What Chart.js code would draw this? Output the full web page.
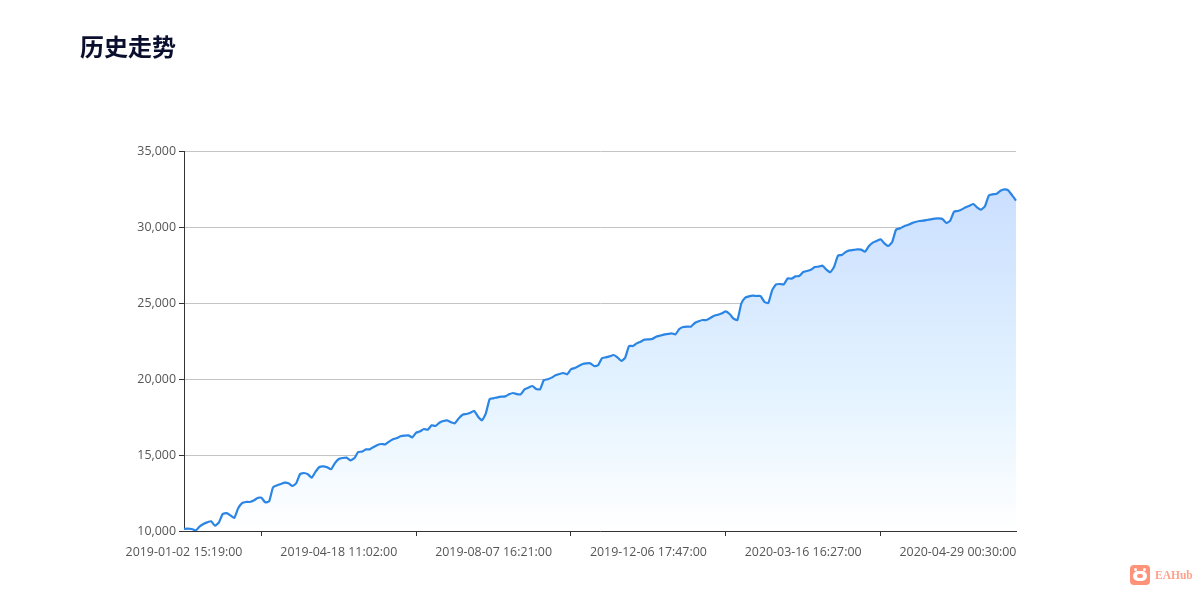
<!DOCTYPE html>
<html>
<head>
<meta charset="utf-8">
<title>历史走势</title>
<script src="https://cdn.jsdelivr.net/npm/chart.js@4"></script>
<style>
  html, body { margin: 0; padding: 0; background: #fff; overflow: hidden; }
  #wrap { position: relative; width: 1201px; height: 590px; }
  canvas { position: absolute; left: 0; top: 0; }
  h2 {
    position: absolute; left: 80px; top: 29px; margin: 0;
    font: bold 24px "Noto Sans CJK SC", sans-serif; line-height: 34px; color: #0b0f2e;
  }
  .logo { position: absolute; left: 1130px; top: 565px; width: 20px; height: 20px; background: #ff9379; border-radius: 4px; }
  .logo i { position: absolute; background: #fff; display: block; }
  .logo .ear1 { left: 4px; top: 3px; width: 3px; height: 3px; border-radius: 2px; }
  .logo .ear2 { left: 13px; top: 3px; width: 3px; height: 3px; border-radius: 2px; }
  .logo .face { left: 3px; top: 6px; width: 14px; height: 10px; border-radius: 5px; }
  .logo .nose { left: 7px; top: 9px; width: 6px; height: 4px; border-radius: 2px; background: #ff9379; }
  .brand {
    position: absolute; left: 1155px; top: 567px;
    font: bold 11.5px "Liberation Serif", serif; line-height: 16px; color: #ffa28c;
  }
</style>
</head>
<body>
<div id="wrap">
  <canvas id="grafico" width="1201" height="590"></canvas>
  <h2>历史走势</h2>
  <div class="logo"><i class="ear1"></i><i class="ear2"></i><i class="face"></i><i class="nose"></i></div>
  <div class="brand">EAHub</div>
</div>
<script>
const tickLabels = ["2019-01-02 15:19:00", "2019-04-18 11:02:00", "2019-08-07 16:21:00",
  "2019-12-06 17:47:00", "2020-03-16 16:27:00", "2020-04-29 00:30:00"];
const labelStep = 40;

const saldo = [
  10130, 10150, 10130, 10040, 10285, 10460, 10570, 10635, 10350, 10550,
  11120, 11180, 11030, 10855, 11490, 11840, 11910, 11910, 12000, 12170,
  12190, 11885, 11950, 12870, 13000, 13090, 13180, 13140, 12960, 13140,
  13750, 13815, 13730, 13510, 13900, 14210, 14255, 14190, 14060, 14470,
  14735, 14800, 14825, 14650, 14780, 15200, 15220, 15370, 15370, 15525,
  15660, 15725, 15700, 15880, 16030, 16120, 16230, 16270, 16295, 16160,
  16470, 16555, 16710, 16665, 16950, 16910, 17125, 17235, 17280, 17150,
  17085, 17410, 17650, 17700, 17785, 17895, 17520, 17280, 17740, 18685,
  18730, 18795, 18840, 18860, 18990, 19080, 19010, 18990, 19320, 19430,
  19540, 19340, 19320, 19935, 19980, 20090, 20240, 20330, 20395, 20305,
  20640, 20720, 20850, 20985, 21030, 21030, 20855, 20900, 21360, 21425,
  21490, 21580, 21425, 21185, 21405, 22170, 22170, 22345, 22455, 22590,
  22610, 22630, 22785, 22850, 22915, 22960, 23005, 22940, 23290, 23420,
  23445, 23445, 23685, 23795, 23880, 23880, 24015, 24165, 24230, 24320,
  24450, 24275, 23970, 23880, 24950, 25350, 25440, 25480, 25460, 25460,
  25065, 25000, 25850, 26230, 26250, 26230, 26620, 26600, 26750, 26775,
  27040, 27105, 27190, 27370, 27390, 27455, 27195, 27020, 27390, 28115,
  28160, 28355, 28465, 28490, 28530, 28510, 28380, 28750, 28970, 29080,
  29190, 28925, 28750, 29010, 29825, 29910, 30040, 30130, 30240, 30330,
  30395, 30415, 30460, 30505, 30550, 30570, 30525, 30260, 30415, 31010,
  31050, 31160, 31295, 31400, 31515, 31270, 31140, 31380, 32085, 32150,
  32190, 32390, 32480, 32415, 32085, 31735
];

const categorias = saldo.map((v, i) => i % labelStep === 0 ? tickLabels[i / labelStep] : "");

const fuente = { family: '"Open Sans", sans-serif', size: 12.4 };

new Chart(document.getElementById("grafico"), {
  type: "line",
  data: {
    labels: categorias,
    datasets: [{
      data: saldo,
      borderColor: "#2b85e4",
      borderWidth: 2.2,
      pointRadius: 0,
      tension: 0.15,
      fill: true,
      backgroundColor: (c) => {
        const { ctx, chartArea, scales } = c.chart;
        if (!chartArea) return "#d0e2ff";
        const g = ctx.createLinearGradient(0, scales.y.getPixelForValue(Math.max(...saldo)), 0, chartArea.bottom);
        g.addColorStop(0, "#cbdfff");
        g.addColorStop(0.6, "#e4f3ff");
        g.addColorStop(1, "#ffffff");
        return g;
      }
    }]
  },
  options: {
    responsive: false,
    animation: false,
    layout: { padding: { left: 0, right: 185, top: 151, bottom: 0 } },
    plugins: { legend: { display: false }, tooltip: { enabled: false } },
    scales: {
      x: {
        offset: false,
        afterBuildTicks: (s) => { s.ticks = s.ticks.filter(t => t.value % labelStep === 0); },
        afterFit: (s) => { s.height = 59; },
        ticks: {
          autoSkip: false, maxRotation: 0, minRotation: 0, padding: 9, color: "#555", font: fuente,
          callback: (v) => categorias[v]
        },
        grid: { offset: true, drawOnChartArea: false, tickLength: 5, tickColor: "#333" },
        border: { color: "#333" }
      },
      y: {
        min: 10000,
        max: 35000,
        afterFit: (s) => { s.width = 184; },
        ticks: { stepSize: 5000, padding: 3, color: "#555", font: fuente, callback: (v) => v.toLocaleString("en-US") },
        grid: { color: "#c4c4c4", tickLength: 5, tickColor: "#333" },
        border: { color: "#333" }
      }
    }
  }
});
</script>
</body>
</html>
